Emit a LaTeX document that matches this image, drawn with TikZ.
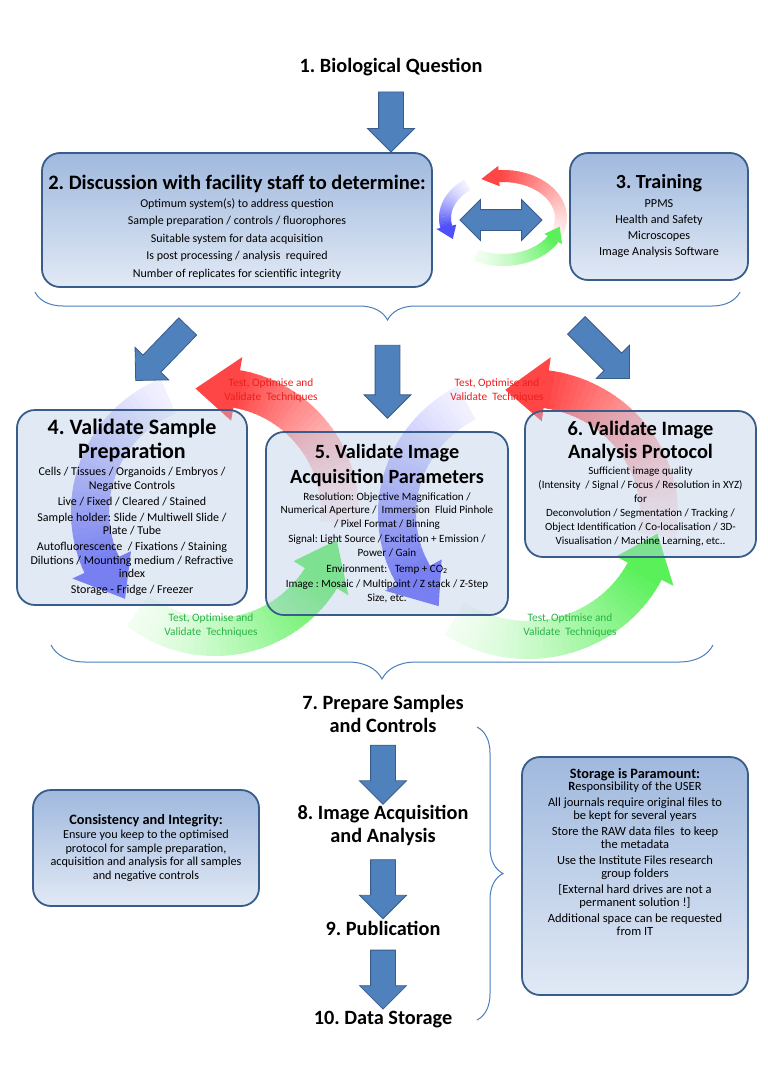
\documentclass[tikz,border=0pt]{standalone}
\usepackage{fontspec}
\setmainfont{Carlito}
\usepackage{tikz}
\usetikzlibrary{positioning}
\usetikzlibrary{shapes.arrows}
\usetikzlibrary{decorations.pathreplacing}
\frenchspacing
\definecolor{arrowblue}{RGB}{79,129,189}
\definecolor{edgeblue}{RGB}{56,93,138}
\definecolor{bracecol}{RGB}{74,126,187}
\definecolor{boxtop}{RGB}{160,185,222}
\definecolor{boxbottom}{RGB}{225,233,245}
\definecolor{gridfill}{RGB}{180,200,228}
\definecolor{loopred}{RGB}{255,70,70}
\definecolor{loopblue}{RGB}{80,80,250}
\definecolor{loopgreen}{RGB}{90,240,90}
\definecolor{labelred}{RGB}{235,30,30}
\definecolor{labelgreen}{RGB}{40,180,70}
\tikzset{stepbox/.style = {draw=edgeblue, line width=1.8pt, rounded corners=18pt,
                           top color=boxtop, bottom color=boxbottom, align=center}}
\tikzset{gridbox/.style = {draw=edgeblue, line width=1.8pt, rounded corners=18pt,
                           fill=gridfill, fill opacity=0.4, text opacity=1, align=center}}
\tikzset{heading/.style = {font=\bfseries\fontsize{20.3}{23}\selectfont, align=center}}
\tikzset{bigarrow/.style = {single arrow, draw=edgeblue, fill=arrowblue, line width=0.8pt,
                            inner xsep=0pt, inner ysep=12pt, single arrow head extend=11pt,
                            minimum height=#1, sloped, allow upside down}}
\tikzset{twinarrow/.style = {double arrow, draw=edgeblue, fill=arrowblue, line width=0.8pt,
                             inner xsep=0pt, inner ysep=10pt, double arrow head extend=10pt,
                             minimum height=82pt}}
\tikzset{brace/.style = {decorate, decoration={brace, amplitude=#1, mirror},
                         draw=bracecol, line width=1pt}}
\tikzset{redtag/.style = {text=labelred, font=\fontsize{11.3}{14}\selectfont, align=center}}
\tikzset{greentag/.style = {text=labelgreen, font=\fontsize{11.3}{14}\selectfont, align=center}}
\newcommand{\loopgrad}[9]{%
  \foreach \k in {0,...,35} {
    \pgfmathsetmacro\ta{#6+(#7-#6)*\k/36}
    \pgfmathsetmacro\tm{#6+(#7-#6)*(\k+0.65)/36}
    \pgfmathsetmacro\tb{#6+(#7-#6)*(\k+1.3)/36}
    \pgfmathsetmacro\mix{8+92*(\k/35)^1.3}
    \draw [#1!\mix!white, line width=#8pt]
      ({#2+#4*cos(\ta)},{#3+#5*sin(\ta)}) -- ({#2+#4*cos(\tm)},{#3+#5*sin(\tm)})
      -- ({#2+#4*cos(\tb)},{#3+#5*sin(\tb)});
  }
  \fill [#1] ({#2+(#4+0.85*#8)*cos(#7)},{#3+(#5+0.85*#8)*sin(#7)})
    -- ({#2+#4*cos(#7-#9)},{#3+#5*sin(#7-#9)})
    -- ({#2+(#4-0.85*#8)*cos(#7)},{#3+(#5-0.85*#8)*sin(#7)}) -- cycle;
}
\newcommand{\boxhead}[2]{{\bfseries\fontsize{#1}{23}\selectfont #2}}

\begin{document}
\begin{tikzpicture}[x=1pt, y=-1pt]
  \useasboundingbox (0,0) rectangle (768,1087);

  \loopgrad{loopred}{215}{512}{125}{125}{5}{-80}{38}{19}
  \loopgrad{loopblue}{215}{512}{125}{125}{-112}{-205}{38}{19}
  \loopgrad{loopgreen}{215}{512}{125}{125}{128}{32}{38}{19}
  \loopgrad{loopred}{528}{514}{131}{126}{10}{-82}{38}{18}
  \loopgrad{loopblue}{528}{514}{131}{126}{-118}{-209}{38}{18}
  \loopgrad{loopgreen}{528}{514}{131}{126}{124}{27}{38}{18}
  \loopgrad{loopred}{503}{218}{58}{42}{25}{-94}{12}{18}
  \loopgrad{loopblue}{503}{218}{58}{42}{-128}{-192}{12}{18}
  \loopgrad{loopgreen}{503}{218}{58}{42}{118}{30}{12}{18}

  \node [heading] (q1) at (391,67) {1. Biological Question};
  \node [stepbox, minimum width=390pt, minimum height=134pt,
         font=\fontsize{12}{17.5}\selectfont] (disc) at (237,220)
    {\boxhead{20.5}{\rule{0pt}{29pt}2. Discussion with facility staff to determine:}\\
     Optimum system(s) to address question\\
     Sample preparation / controls / fluorophores\\
     Suitable system for data acquisition\\
     Is post processing / analysis~ required\\
     Number of replicates for scientific integrity};
  \node [stepbox, minimum width=178pt, minimum height=127pt,
         font=\fontsize{12.2}{16}\selectfont] (train) at (659,216.5)
    {\boxhead{20}{3. Training}\\[3pt]
     PPMS\\Health and Safety\\Microscopes\\Image Analysis Software};
  \path (disc.east) -- node [twinarrow] {} (disc.east -| train.west);
  \path (q1) -- node [bigarrow=60pt] {} (q1 |- disc.north);

  \draw [brace=28pt] (35,292) -- (740,292);
  \coordinate (fork) at (387.5,320);
  \coordinate (leftfrom) at (192,322);
  \coordinate (leftto) at (140,376);
  \coordinate (rightfrom) at (572,321);
  \coordinate (rightto) at (625,374);

  \node [gridbox, minimum width=230pt, minimum height=195pt,
         font=\fontsize{12}{13.5}\selectfont] (sample) at (132,507.5)
    {\boxhead{22}{4. Validate Sample}\\[4pt]\boxhead{22}{Preparation}\\[4pt]
     Cells / Tissues / Organoids / Embryos /\\Negative Controls\\[2.5pt]
     Live / Fixed / Cleared / Stained\\[2.5pt]
     Sample holder: Slide / Multiwell Slide /\\Plate / Tube\\[2.5pt]
     Autofluorescence~ / Fixations / Staining\\
     Dilutions / Mounting medium / Refractive\\index\\[2.5pt]
     Storage - Fridge / Freezer};
  \node [gridbox, minimum width=242pt, minimum height=183pt,
         font=\fontsize{11.1}{13.3}\selectfont] (acq) at (387,523.5)
    {\boxhead{20.2}{5. Validate Image}\\[6pt]
     \boxhead{20.2}{Acquisition Parameters}\\[4pt]
     Resolution: Objective Magnification /\\
     Numerical Aperture /~ Immersion~ Fluid Pinhole\\
     / Pixel Format / Binning\\[2.5pt]
     Signal: Light Source / Excitation + Emission /\\Power / Gain\\[2.5pt]
     Environment:~~ Temp + CO\textsubscript{2}\\[2.5pt]
     Image : Mosaic / Multipoint / Z stack / Z-Step\\Size, etc.};
  \node [gridbox, minimum width=231pt, minimum height=146pt,
         font=\fontsize{11}{14}\selectfont] (analysis) at (640.5,484)
    {\boxhead{20.4}{6. Validate Image}\\[4pt]
     \boxhead{20.4}{Analysis Protocol}\\[2pt]
     Sufficient image quality\\
     (Intensity~ / Signal / Focus / Resolution in XYZ)\\
     for\\
     Deconvolution / Segmentation / Tracking /\\
     Object Identification / Co-localisation / 3D-\\
     Visualisation / Machine Learning, etc..};

  \path (fork) -- node [bigarrow=73pt] {} (fork |- acq.north);
  \path (leftfrom) -- node [bigarrow=75pt] {} (leftto);
  \path (rightfrom) -- node [bigarrow=75pt] {} (rightto);

  \node [redtag] (redleft) at (271,390) {Test, Optimise and\\Validate~ Techniques};
  \node [redtag] (redright) at (497,390) {Test, Optimise and\\Validate~ Techniques};
  \node [greentag] (greenleft) at (211,625) {Test, Optimise and\\Validate~ Techniques};
  \node [greentag] (greenright) at (570,625) {Test, Optimise and\\Validate~ Techniques};

  \draw [brace=34pt] (51,645) -- (713,645);

  \node [heading] (q7) at (383,713.5) {7. Prepare Samples\\and Controls};
  \node [heading] (q8) at (383,825) {8. Image Acquisition\\and Analysis};
  \node [heading] (q9) at (383,928) {9. Publication};
  \node [heading] (q10) at (383,1020) {10. Data Storage};
  \path (q7) -- node [bigarrow=59pt] {} (q8);
  \path (q8) -- node [bigarrow=59pt] {} (q9);
  \path (q9) -- node [bigarrow=59pt] {} (q10);

  \node [stepbox, minimum width=226pt, minimum height=116pt,
         font=\fontsize{12.2}{13.5}\selectfont] (consist) at (146,848)
    {{\bfseries\fontsize{14.3}{16}\selectfont Consistency and Integrity:}\\[1pt]
     Ensure you keep to the optimised\\
     protocol for sample preparation,\\
     acquisition and analysis for all samples\\
     and negative controls};
  \node [stepbox, minimum width=226pt, minimum height=238pt,
         font=\fontsize{12.5}{13}\selectfont] (store) at (635,876)
    {{\bfseries\fontsize{14.3}{16}\selectfont Storage is Paramount:}\\[-1pt]
     \textbf{R}esponsibility of the USER\\[3pt]
     All journals require original files to\\be kept for several years\\[3pt]
     Store the RAW data files~ to keep\\the metadata\\[3pt]
     Use the Institute Files research\\group folders\\[3pt]
     {[}External hard drives are not a\\permanent solution !]\\[3pt]
     Additional space can be requested\\from IT\\[35pt]\mbox{}};

  \draw [brace=26pt] (477,1020) -- (477,727);
\end{tikzpicture}
\end{document}
